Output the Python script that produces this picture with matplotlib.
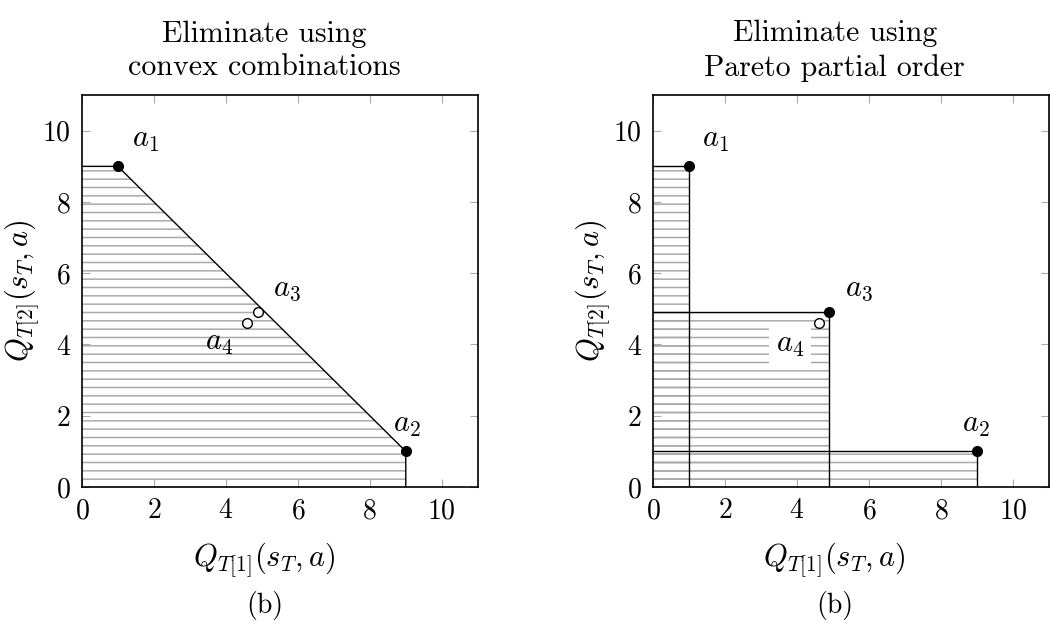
import matplotlib
matplotlib.use("Agg")
import matplotlib.pyplot as plt

plt.rcParams['font.family'] = 'cmr10'
plt.rcParams['mathtext.fontset'] = 'cm'
plt.rcParams['axes.formatter.use_mathtext'] = True
plt.rcParams['hatch.linewidth'] = 1.1
plt.rcParams['hatch.color'] = '#aaaaaa'

# points (Q_T[1], Q_T[2])
a1 = (1, 9)
a2 = (9, 1)
a3 = (4.9, 4.9)
a4 = (4.6, 4.6)

titles = ["Eliminate using\nconvex combinations", "Eliminate using\nPareto partial order"]
ticks = [0, 2, 4, 6, 8, 10]

fig = plt.figure(figsize=(10.5, 6.27), dpi=100)
ax1 = fig.add_axes([0.078, 0.2233, 0.377, 0.625])
ax2 = fig.add_axes([0.622, 0.2233, 0.377, 0.625])

hatch_kw = dict(facecolor='none', edgecolor='#aaaaaa', hatch='--', linewidth=0)
line_kw = dict(color='black', linewidth=1.0)
lab_kw = dict(fontsize=22, ha='left', va='center')


def style(ax):
    ax.set_xlim(0, 11)
    ax.set_ylim(0, 11)
    ax.set_xticks(ticks)
    ax.set_yticks(ticks)
    ax.tick_params(direction='in', length=6, width=0.8, color='#aaaaaa',
                   labelsize=20, top=True, right=True, pad=8)
    for s in ax.spines.values():
        s.set_linewidth(1.2)


def mark(ax, p, filled=True):
    ax.plot(*p, 'o', ms=7, mec='black', mew=1.0,
            mfc='black' if filled else 'white', zorder=5)


# left: convex combinations
ax = ax1
xs = [0, 0, a1[0], a2[0], a2[0]]
ys = [0, a1[1], a1[1], a2[1], 0]
ax.fill(xs, ys, **hatch_kw)
ax.plot(xs[1:], ys[1:], **line_kw)
mark(ax, a1)
mark(ax, a2)
mark(ax, a3, False)
mark(ax, a4, False)
ax.text(1.39, 9.72, r'$a_1$', **lab_kw)
ax.text(8.64, 1.72, r'$a_2$', **lab_kw)
ax.text(5.3, 5.55, r'$a_3$', **lab_kw)
ax.text(3.42, 4.03, r'$a_4$', **lab_kw)
style(ax)

# right: Pareto partial order
ax = ax2
for p in (a1, a3, a2):
    ax.fill([0, 0, p[0], p[0]], [0, p[1], p[1], 0], **hatch_kw)
    ax.plot([0, p[0], p[0]], [p[1], p[1], 0], **line_kw)
mark(ax, a1)
mark(ax, a2)
mark(ax, a3)
mark(ax, a4, False)
ax.text(1.36, 9.72, r'$a_1$', **lab_kw)
ax.text(8.58, 1.72, r'$a_2$', **lab_kw)
ax.text(5.33, 5.55, r'$a_3$', **lab_kw)
ax.text(3.8, 3.98, r'$a_4$', fontsize=22, ha='center', va='center',
        bbox=dict(facecolor='white', edgecolor='none', pad=5))
style(ax)

for cx, ttl in zip([0.252, 0.795], titles):
    fig.text(cx, 0.919, ttl, fontsize=21.5, ha='center', va='center', linespacing=1.3)
    fig.text(cx, 0.107, r'$Q_{T[1]}(s_T, a)$', fontsize=22, ha='center', va='center')
    fig.text(cx, 0.035, '(b)', fontsize=20, ha='center', va='center')

for lx in [0.021, 0.565]:
    fig.text(lx, 0.537, r'$Q_{T[2]}(s_T, a)$', fontsize=22, ha='center', va='center',
             rotation=90)

fig.savefig('out.png', dpi=100)
